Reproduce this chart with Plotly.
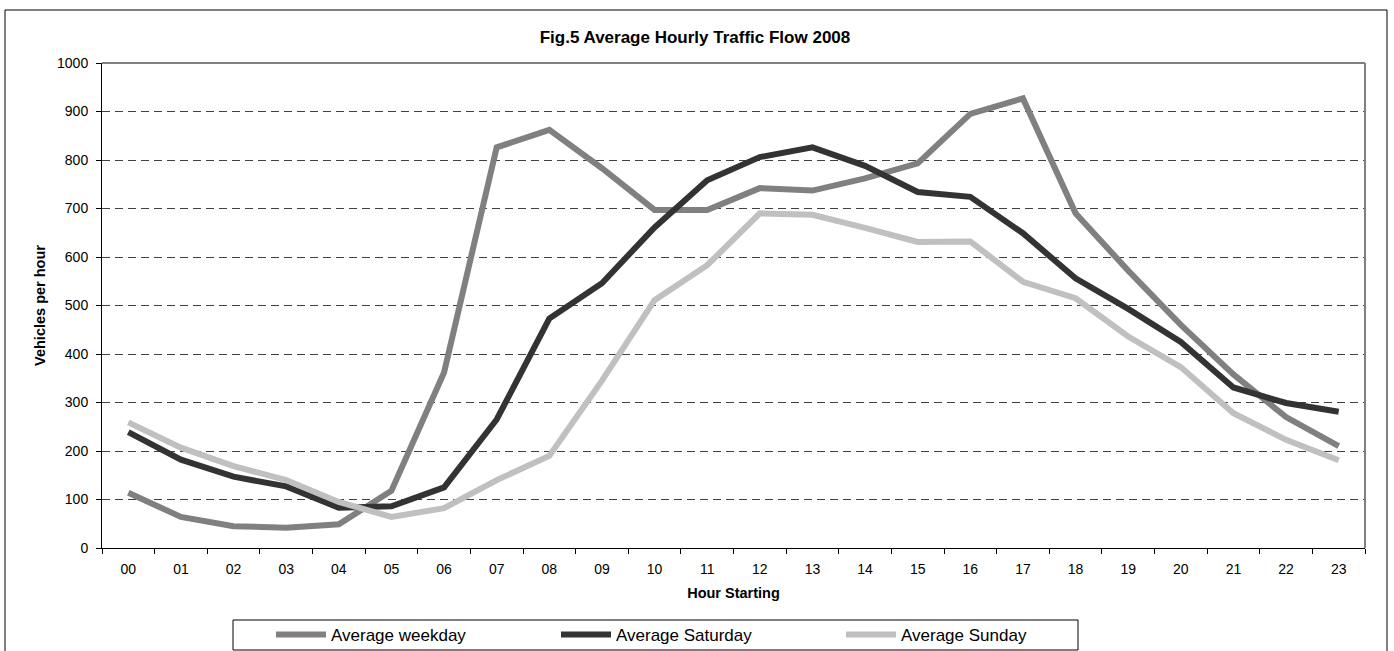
import plotly.graph_objects as go

hours = [f"{h:02d}" for h in range(24)]
weekday = [114, 64, 45, 42, 49, 118, 362, 826, 862, 783, 697, 697, 742, 737, 762, 793, 895, 927, 690, 572, 460, 358, 270, 210]
saturday = [239, 182, 147, 127, 83, 86, 125, 265, 473, 546, 661, 758, 806, 826, 788, 734, 724, 649, 556, 493, 425, 331, 299, 281]
sunday = [259, 207, 169, 140, 95, 64, 82, 140, 190, 345, 511, 583, 690, 687, 660, 631, 632, 549, 515, 436, 373, 278, 223, 181]

series = [("Average weekday", weekday, "#808080"),
          ("Average Saturday", saturday, "#333333"),
          ("Average Sunday", sunday, "#c0c0c0")]

W, H = 1394, 651
L, R, T, B = 102, 29, 63, 103
pw, ph = W - L - R, H - T - B

def px(x):
    return (x - L) / pw

def py(y):
    return (H - B - y) / ph

fig = go.Figure()
for name, vals, col in series:
    fig.add_trace(go.Scatter(x=hours, y=vals, name=name, mode="lines",
                             line=dict(color=col, width=6)))

font = "Liberation Sans, Arial, sans-serif"
fig.update_layout(
    width=W, height=H,
    margin=dict(l=L, r=R, t=T, b=B, autoexpand=False),
    paper_bgcolor="white", plot_bgcolor="white",
    font=dict(family=font, size=14, color="black"),
    title=dict(text="<b>Fig.5 Average Hourly Traffic Flow 2008</b>",
               x=px(695), xref="paper", xanchor="center",
               y=1 - 37 / H, yanchor="middle", font=dict(size=17)),
    xaxis=dict(type="category", range=[-0.5, 23.5], tickson="boundaries",
               ticks="outside", ticklen=5, tickcolor="black",
               ticklabelstandoff=8, automargin=False,
               showline=True, linecolor="black", linewidth=1,
               showgrid=False, zeroline=False,
               title=dict(text="<b>Hour Starting</b>", standoff=12,
                          font=dict(size=14.5))),
    yaxis=dict(range=[0, 1000], dtick=100, ticks="outside", ticklen=5,
               tickcolor="black", ticklabelstandoff=5, automargin=False,
               showline=True, linecolor="black",
               linewidth=1, showgrid=True, gridcolor="#404040",
               gridwidth=1, griddash="8px,5px", zeroline=False,
               title=dict(text="<b>Vehicles per hour</b>", standoff=7,
                          font=dict(size=14.5))),
    legend=dict(orientation="h", xref="container", yref="container",
                x=271 / W, xanchor="left",
                y=1 - 635 / H, yanchor="middle", bgcolor="rgba(0,0,0,0)",
                borderwidth=0, itemwidth=50,
                entrywidth=220, entrywidthmode="pixels",
                font=dict(size=17, family=font)),
    showlegend=True,
)

# plot-area top and right borders (gray)
fig.add_shape(type="line", xref="paper", yref="paper", x0=0, x1=1, y0=1, y1=1,
              line=dict(color="#808080", width=2))
fig.add_shape(type="line", xref="paper", yref="paper", x0=1, x1=1, y0=0, y1=1,
              line=dict(color="#808080", width=2))
# outer chart border
fig.add_shape(type="rect", xref="paper", yref="paper",
              x0=px(5), x1=px(1387), y0=py(10), y1=py(660),
              line=dict(color="black", width=1), layer="below")
# legend box
fig.add_shape(type="rect", xref="paper", yref="paper",
              x0=px(233), x1=px(1078), y0=py(620), y1=py(650),
              line=dict(color="black", width=1))

fig.write_html("out.html", config=dict(displayModeBar=False),
               post_script="document.body.style.margin='0px';document.body.style.overflow='hidden';")
